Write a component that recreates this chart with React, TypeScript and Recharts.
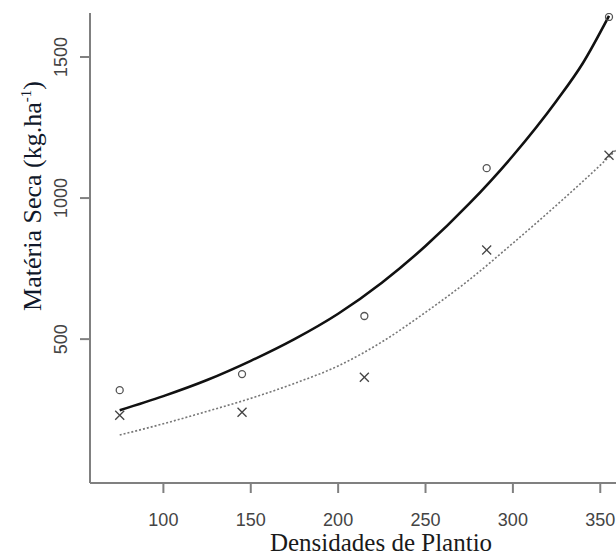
import { ComposedChart, Line, Scatter, XAxis, YAxis, Label } from "recharts";

// densidades observadas
const densidades = [75, 145, 215, 285, 355];
const circulos = [319, 376, 582, 1106, 1642];
const cruzes = [230, 241, 365, 816, 1152];

// curvas ajustadas
const curvaSolidaX = [75, 100, 125, 150, 175, 200, 225, 250, 275, 300, 325, 340, 355];
const curvaSolidaY = [248, 298, 355, 423, 500, 590, 700, 830, 980, 1150, 1345, 1478, 1646];
const curvaPontilhadaX = [75, 100, 125, 150, 175, 200, 225, 250, 275, 300, 325, 355, 359];
const curvaPontilhadaY = [160, 200, 244, 290, 343, 405, 490, 595, 710, 840, 975, 1146, 1170];

const xTicks = [100, 150, 200, 250, 300, 350];
const yTicks = [500, 1000, 1500];

const circData = densidades.map((d, i) => ({ x: d, y: circulos[i] }));
const cruzData = densidades.map((d, i) => ({ x: d, y: cruzes[i] }));
const solidaData = curvaSolidaX.map((d, i) => ({ x: d, y: curvaSolidaY[i] }));
const pontilhadaData = curvaPontilhadaX.map((d, i) => ({ x: d, y: curvaPontilhadaY[i] }));

const axisColor = "#808080";
const sansFont = "'Liberation Sans', Arial, sans-serif";
const serifFont = "'Liberation Serif', 'Times New Roman', serif";

const Circulo = (props: any) => (
  <circle cx={props.cx} cy={props.cy} r={3.5} fill="none" stroke="#555" strokeWidth={1.3} />
);

const Cruz = (props: any) => {
  const { cx, cy } = props;
  const s = 4.5;
  return (
    <g stroke="#444" strokeWidth={1.3}>
      <line x1={cx - s} y1={cy - s} x2={cx + s} y2={cy + s} />
      <line x1={cx - s} y1={cy + s} x2={cx + s} y2={cy - s} />
    </g>
  );
};

const XTick = ({ x, payload }: any) => (
  <text x={x} y={526} textAnchor="middle" fontFamily={sansFont} fontSize={18} fill="#444">
    {payload.value}
  </text>
);

const YTick = ({ y, payload }: any) => (
  <text
    x={67}
    y={y}
    transform={`rotate(-90, 67, ${y})`}
    textAnchor="middle"
    fontFamily={sansFont}
    fontSize={18}
    fill="#444"
  >
    {payload.value}
  </text>
);

export default function App() {
  return (
    <div style={{ position: "absolute", left: 0, top: 0, background: "#fff" }}>
      <ComposedChart width={616} height={558} margin={{ top: 13, right: 0, left: 0, bottom: 0 }}>
        <XAxis
          type="number"
          dataKey="x"
          domain={[58, 359]}
          allowDataOverflow
          ticks={xTicks}
          tick={<XTick />}
          tickSize={10}
          height={75}
          axisLine={{ stroke: axisColor, strokeWidth: 2 }}
          tickLine={{ stroke: axisColor, strokeWidth: 2 }}
        >
          <Label
            content={() => (
              <text x={381} y={551} textAnchor="middle" fontFamily={serifFont} fontSize={25} fill="#1a1a1a">
                Densidades de Plantio
              </text>
            )}
          />
        </XAxis>
        <YAxis
          type="number"
          dataKey="y"
          domain={[-10, 1656]}
          allowDataOverflow
          ticks={yTicks}
          tick={<YTick />}
          tickSize={10}
          width={90}
          axisLine={{ stroke: axisColor, strokeWidth: 2 }}
          tickLine={{ stroke: axisColor, strokeWidth: 2 }}
        >
          <Label
            content={() => (
              <text
                x={41}
                y={196}
                transform="rotate(-90, 41, 196)"
                textAnchor="middle"
                fontFamily={serifFont}
                fontSize={26}
                fill="#10182a"
              >
                Matéria Seca (kg.ha
                <tspan fontSize={15} dy={-10}>-1</tspan>
                <tspan dy={10}>)</tspan>
              </text>
            )}
          />
        </YAxis>
        <Line
          data={pontilhadaData}
          dataKey="y"
          type="monotone"
          stroke="#777"
          strokeWidth={1.6}
          strokeDasharray="2 2"
          dot={false}
          isAnimationActive={false}
        />
        <Line
          data={solidaData}
          dataKey="y"
          type="monotone"
          stroke="#111"
          strokeWidth={2.6}
          dot={false}
          isAnimationActive={false}
        />
        <Scatter data={circData} dataKey="y" shape={<Circulo />} isAnimationActive={false} />
        <Scatter data={cruzData} dataKey="y" shape={<Cruz />} isAnimationActive={false} />
      </ComposedChart>
    </div>
  );
}
